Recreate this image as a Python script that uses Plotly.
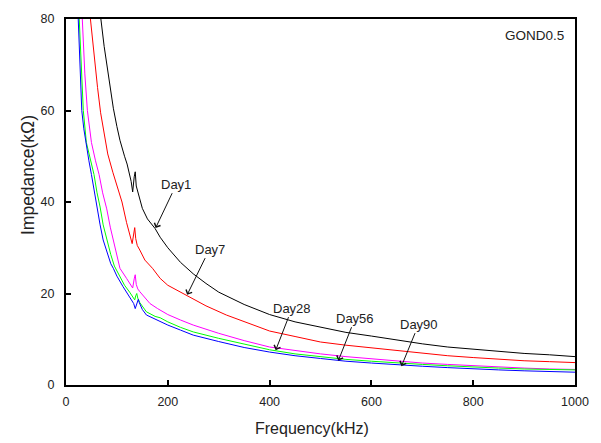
import plotly.graph_objects as go

# Day1 (black)
f_day1 = [40, 50, 60, 68, 75, 86, 93, 100, 106, 115, 120, 128, 131, 134, 136, 138, 141, 150, 160, 175, 185, 200, 225, 250, 275, 300, 350, 400, 450, 500, 550, 600, 650, 700, 750, 800, 850, 900, 950, 1000]
z_day1 = [130, 105, 90, 80.5, 74, 66, 60.5, 56.5, 53.5, 50, 48.3, 44.5, 42.2, 45.5, 46.6, 43.5, 42.2, 38.6, 36.3, 34.2, 32.3, 30, 26.8, 24.3, 22.2, 20.3, 17.6, 15.4, 13.8, 12.6, 11.5, 10.7, 9.8, 9.0, 8.3, 7.8, 7.3, 6.9, 6.6, 6.2]

# Day7 (red)
f_day7 = [35, 42, 48, 55, 62, 68, 75, 82, 92, 100, 110, 119, 126, 130, 133, 135, 137, 140, 145, 155, 170, 185, 200, 236, 275, 315, 350, 400, 450, 500, 550, 600, 650, 700, 750, 800, 850, 900, 950, 1000]
z_day7 = [115, 93, 80, 72, 65, 59.5, 54.5, 50.5, 46.5, 43.5, 40, 35.5, 32.5, 30.9, 33, 34.4, 32, 30.5, 29.5, 27.3, 25.5, 23.3, 21.8, 19.6, 17.3, 15.3, 13.8, 11.8, 10.6, 9.4, 8.7, 8.1, 7.5, 6.9, 6.4, 6.0, 5.6, 5.3, 5.1, 4.9]

# Day28 (magenta)
f_day28 = [20, 25, 32, 37, 42, 50, 58, 65, 72, 80, 87, 93, 100, 106, 119, 125, 131, 134, 136, 138, 141, 145, 155, 165, 180, 200, 225, 250, 300, 350, 400, 450, 500, 550, 600, 650, 700, 750, 800, 850, 900, 950, 1000]
z_day28 = [120, 100, 80, 68, 60, 53, 49, 46, 42, 38.5, 34.5, 31.5, 28, 25.5, 23.3, 22.3, 21.2, 23.2, 24.1, 22, 21, 20.4, 19, 17.8, 16.7, 15.4, 14.2, 13.1, 11.3, 9.7, 8.3, 7.5, 6.8, 6.2, 5.7, 5.2, 4.8, 4.5, 4.2, 3.9, 3.7, 3.5, 3.4]

# Day56 (green)
f_day56 = [18, 22, 26, 30, 34, 40, 48, 55, 61, 67, 73, 80, 88, 95, 105, 115, 125, 133, 135, 137, 139, 141, 145, 158, 175, 185, 200, 225, 250, 300, 350, 400, 450, 500, 550, 600, 650, 700, 750, 800, 850, 900, 950, 1000]
z_day56 = [120, 95, 80, 70, 60, 53, 49.5, 46, 42, 38.9, 35, 31.7, 28.5, 26, 23.8, 21.8, 20.3, 19, 18.6, 19.5, 20, 19, 18, 16.0, 15, 14.7, 13.8, 12.6, 11.6, 10.2, 8.9, 7.7, 6.8, 6.2, 5.6, 5.2, 4.8, 4.5, 4.2, 3.9, 3.7, 3.5, 3.4, 3.3]

# Day90 (blue)
f_day90 = [16, 20, 24, 28, 31, 35, 39, 45, 50, 56, 61, 67, 73, 80, 88, 93, 100, 112, 125, 133, 136, 139, 142, 144, 150, 158, 175, 185, 200, 225, 250, 300, 350, 400, 450, 500, 550, 600, 650, 700, 750, 800, 850, 900, 950, 1000]
z_day90 = [120, 95, 80, 68, 60, 56, 53, 49, 46, 42, 39, 35, 31.7, 29, 26.5, 25.5, 23.8, 21.5, 19.3, 17.8, 16.7, 17.5, 18.7, 18, 16.5, 15.3, 14.4, 14, 13.1, 12, 10.9, 9.5, 8.2, 7.2, 6.4, 5.8, 5.2, 4.8, 4.4, 4.1, 3.8, 3.5, 3.3, 3.1, 2.95, 2.8]

labels = ["Day1", "Day7", "Day28", "Day56", "Day90"]
colors = ["#000000", "#FF0000", "#FF00FF", "#00FF00", "#0000FF"]
# arrow tip (on curve) and label centre
tip_f = [176, 238, 412, 535, 659]
tip_z = [34.3, 19.7, 7.6, 5.3, 4.1]
lab_f = [217, 282, 444, 568, 693]
lab_z = [43.9, 29.7, 16.8, 14.6, 13.3]

x_ticks = [0, 200, 400, 600, 800, 1000]
y_ticks = [0, 20, 40, 60, 80]

font_family = "Liberation Sans, Arial, sans-serif"

fig = go.Figure()
series = [(f_day1, z_day1), (f_day7, z_day7), (f_day28, z_day28), (f_day56, z_day56), (f_day90, z_day90)]
for (fx, zy), name, c in zip(series, labels, colors):
    fig.add_trace(go.Scatter(x=fx, y=zy, mode="lines", name=name,
                             line=dict(color=c, width=1)))

for i, name in enumerate(labels):
    fig.add_annotation(x=tip_f[i], y=tip_z[i], ax=lab_f[i], ay=lab_z[i],
                       xref="x", yref="y", axref="x", ayref="y",
                       text=name, showarrow=True, arrowhead=4, arrowsize=1.3,
                       arrowwidth=1, arrowcolor="#111111",
                       font=dict(family=font_family, size=13, color="#222222"))

fig.add_annotation(x=0.983, y=0.956, xref="paper", yref="paper", xanchor="right",
                   yanchor="middle", text="GOND0.5", showarrow=False,
                   font=dict(family=font_family, size=13.5, color="#222222"))
fig.add_annotation(x=0.484, y=-0.12, xref="paper", yref="paper", xanchor="center",
                   yanchor="middle", text="Frequency(kHz)", showarrow=False,
                   font=dict(family=font_family, size=16, color="#222222"))
fig.add_annotation(x=-0.0744, y=0.574, xref="paper", yref="paper", xanchor="center",
                   yanchor="middle", text="Impedance(kΩ)", showarrow=False, textangle=-90,
                   font=dict(family=font_family, size=17.5, color="#222222"))

axis_common = dict(showline=True, linecolor="black", linewidth=2, mirror=True,
                   ticks="inside", ticklen=5, tickwidth=2, tickcolor="black",
                   showgrid=False, zeroline=False,
                   tickfont=dict(family=font_family, size=12.5, color="#222222"))
fig.update_xaxes(range=[0, 1000], tickvals=x_ticks, ticktext=[str(v) for v in x_ticks],
                 ticklabelstandoff=4, **axis_common)
fig.update_yaxes(range=[0, 80], tickvals=y_ticks, ticktext=[str(v) for v in y_ticks],
                 ticklabelstandoff=7, **axis_common)

fig.update_layout(width=601, height=443, margin=dict(l=66, r=24, t=18, b=58),
                  paper_bgcolor="white", plot_bgcolor="white", showlegend=False)

fig.write_html("out.html")
